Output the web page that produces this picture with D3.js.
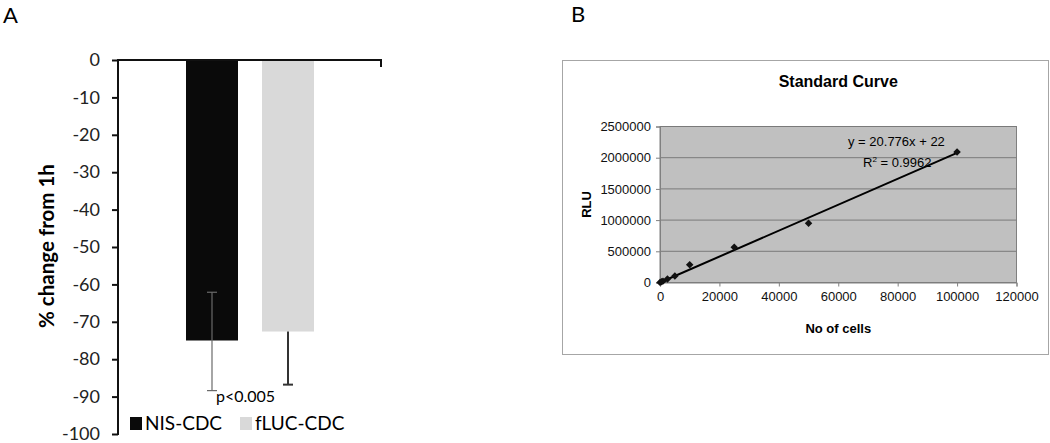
<!DOCTYPE html>
<html>
<head>
<meta charset="utf-8">
<script src="https://cdn.jsdelivr.net/npm/d3@7"></script>
<style>
  body { margin: 0; background: #fff; }
  svg { display: block; }
</style>
</head>
<body>
<div id="chart"></div>
<script>
// Panel A: % change from 1h
const seriesA = ['NIS-CDC', 'fLUC-CDC'];
const valuesA = [-75.0, -72.6];
const errLowA = [13.4, 14.2];
const errHighA = [12.9, 0];
const barColorsA = ['#0a0a0a', '#d9d9d9'];
const ticksA = [0, -10, -20, -30, -40, -50, -60, -70, -80, -90, -100];

// Panel B: standard curve
const cellsB = [0, 500, 1000, 2500, 5000, 10000, 25000, 50000, 100000];
const rluB = [2000, 12000, 22000, 55000, 105000, 285000, 565000, 950000, 2090000];
const slopeB = 20.776;
const interceptB = 22;
const xTicksB = [0, 20000, 40000, 60000, 80000, 100000, 120000];
const yTicksB = [0, 500000, 1000000, 1500000, 2000000, 2500000];

const W = 1050, H = 443;
const svg = d3.select('#chart').append('svg')
    .attr('width', W).attr('height', H);

const fontA = 'Lato, "Open Sans", sans-serif';
const fontB = '"Liberation Sans", Arial, sans-serif';
const plain = d => String(d);   // keep ascii hyphen for negatives

// ---------- Panel A ----------
svg.append('text')
    .attr('x', 3).attr('y', 23)
    .attr('font-family', fontA).attr('font-size', 22)
    .text('A');

const yA = d3.scaleLinear().domain([-100, 0]).range([434, 60]);
const left = 118, right = 381;

const xA = d3.scaleBand()
    .domain(seriesA)
    .range([186, 314])
    .paddingInner(0.316);

const gA = svg.append('g');

// bars
gA.selectAll('rect.bar')
    .data(seriesA)
    .join('rect')
    .attr('class', 'bar')
    .attr('x', d => xA(d))
    .attr('width', xA.bandwidth())
    .attr('y', yA(0))
    .attr('height', (d, i) => yA(valuesA[i]) - yA(0))
    .attr('fill', (d, i) => barColorsA[i]);

// error bars
const errColors = ['#6a6a6a', '#333'];
const errWidths = [1.2, 2];
seriesA.forEach((s, i) => {
    const cx = xA(s) + xA.bandwidth() / 2;
    const top = yA(valuesA[i] + errHighA[i]);
    const bot = yA(valuesA[i] - errLowA[i]);
    const g = gA.append('g')
        .attr('stroke', errColors[i]).attr('stroke-width', errWidths[i]);
    g.append('line').attr('x1', cx).attr('x2', cx).attr('y1', top).attr('y2', bot);
    g.append('line').attr('x1', cx - 5).attr('x2', cx + 5).attr('y1', bot).attr('y2', bot);
    if (errHighA[i] > 0) {
        g.append('line').attr('x1', cx - 5).attr('x2', cx + 5).attr('y1', top).attr('y2', top);
    }
});

// y axis
const axisA = gA.append('g')
    .attr('transform', `translate(${left},0)`)
    .call(d3.axisLeft(yA).tickValues(ticksA).tickSize(6).tickPadding(12).tickFormat(plain));
axisA.select('.domain').remove();
axisA.selectAll('.tick line').attr('stroke', '#111').attr('stroke-width', 2);
axisA.selectAll('.tick text')
    .attr('font-family', fontA).attr('font-size', 18).attr('fill', '#222');
gA.append('line')
    .attr('x1', left).attr('x2', left)
    .attr('y1', yA(0) - 1).attr('y2', yA(-100) + 1)
    .attr('stroke', '#111').attr('stroke-width', 2);

// top category axis at 0
gA.append('path')
    .attr('d', `M${left},${yA(0)}H${right}V${yA(0) + 7}`)
    .attr('fill', 'none').attr('stroke', '#111').attr('stroke-width', 2);

// y title
gA.append('text')
    .attr('transform', `translate(54,${(yA(0) + yA(-100)) / 2 - 1}) rotate(-90)`)
    .attr('text-anchor', 'middle')
    .attr('font-family', fontA).attr('font-size', 20.5).attr('font-weight', 'bold')
    .text('% change from 1h');

// p value
gA.append('text')
    .attr('x', 216).attr('y', 402)
    .attr('font-family', fontA).attr('font-size', 16)
    .text('p<0.005');

// legend
const legX = [130, 240];
seriesA.forEach((s, i) => {
    gA.append('rect')
        .attr('x', legX[i]).attr('y', 417)
        .attr('width', 12).attr('height', 13)
        .attr('fill', barColorsA[i]);
    gA.append('text')
        .attr('x', legX[i] + 15).attr('y', 430)
        .attr('font-family', fontA).attr('font-size', 19)
        .text(s);
});

// ---------- Panel B ----------
svg.append('text')
    .attr('x', 571).attr('y', 22)
    .attr('font-family', fontA).attr('font-size', 22)
    .text('B');

const gB = svg.append('g');
gB.append('rect')
    .attr('x', 562.5).attr('y', 60.5)
    .attr('width', 486).attr('height', 294)
    .attr('fill', '#fff').attr('stroke', '#a6a6a6');

const xB = d3.scaleLinear().domain([0, 120000]).range([660, 1016.5]);
const yB = d3.scaleLinear().domain([0, 2500000]).range([282.5, 126.5]);

gB.append('rect')
    .attr('x', xB(0)).attr('y', yB(2500000))
    .attr('width', xB(120000) - xB(0)).attr('height', yB(0) - yB(2500000))
    .attr('fill', '#c0c0c0').attr('stroke', '#808080');

// grid
gB.append('g').selectAll('line')
    .data(yTicksB)
    .join('line')
    .attr('x1', xB(0)).attr('x2', xB(120000))
    .attr('y1', d => yB(d)).attr('y2', d => yB(d))
    .attr('stroke', '#7a7a7a');

const axXB = gB.append('g')
    .attr('transform', `translate(0,${yB(0)})`)
    .call(d3.axisBottom(xB).tickValues(xTicksB).tickSize(4).tickPadding(5).tickFormat(plain));
const axYB = gB.append('g')
    .attr('transform', `translate(${xB(0)},0)`)
    .call(d3.axisLeft(yB).tickValues(yTicksB).tickSize(4).tickPadding(5).tickFormat(plain));
[axXB, axYB].forEach(ax => {
    ax.select('.domain').attr('stroke', '#808080');
    ax.selectAll('.tick line').attr('stroke', '#808080');
    ax.selectAll('.tick text')
        .attr('font-family', fontB).attr('font-size', 13).attr('fill', '#111');
});

// trendline
const xExt = d3.extent(cellsB);
gB.append('line')
    .attr('x1', xB(xExt[0])).attr('y1', yB(slopeB * xExt[0] + interceptB))
    .attr('x2', xB(xExt[1])).attr('y2', yB(slopeB * xExt[1] + interceptB))
    .attr('stroke', '#000').attr('stroke-width', 2);

// points
gB.append('g').selectAll('path')
    .data(cellsB)
    .join('path')
    .attr('d', d3.symbol(d3.symbolSquare, 28))
    .attr('transform', (d, i) => `translate(${xB(d)},${yB(rluB[i])}) rotate(45)`)
    .attr('fill', '#111');

// equation
gB.append('text')
    .attr('x', 848).attr('y', 146)
    .attr('font-family', fontB).attr('font-size', 13)
    .text(`y = ${slopeB}x + ${interceptB}`);
const r2 = gB.append('text')
    .attr('x', 863).attr('y', 166.5)
    .attr('font-family', fontB).attr('font-size', 13);
r2.append('tspan').text('R');
r2.append('tspan').attr('dy', -5).attr('font-size', 8).text('2');
r2.append('tspan').attr('dy', 5).text(' = 0.9962');

// titles
gB.append('text')
    .attr('x', (xB(0) + xB(120000)) / 2).attr('y', 87)
    .attr('text-anchor', 'middle')
    .attr('font-family', fontB).attr('font-size', 16).attr('font-weight', 'bold')
    .text('Standard Curve');
gB.append('text')
    .attr('x', (xB(0) + xB(120000)) / 2).attr('y', 333)
    .attr('text-anchor', 'middle')
    .attr('font-family', fontB).attr('font-size', 13).attr('font-weight', 'bold')
    .text('No of cells');
gB.append('text')
    .attr('transform', `translate(591,${(yB(0) + yB(2500000)) / 2}) rotate(-90)`)
    .attr('text-anchor', 'middle')
    .attr('font-family', fontB).attr('font-size', 13).attr('font-weight', 'bold')
    .text('RLU');
</script>
</body>
</html>
